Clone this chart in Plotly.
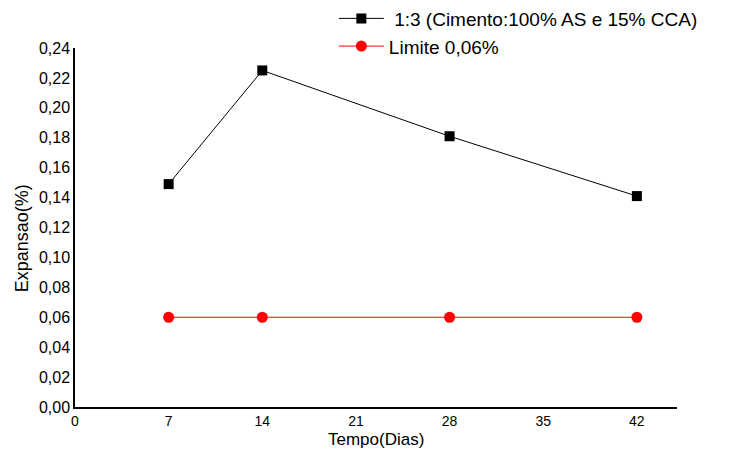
import plotly.graph_objects as go

dias = [7, 14, 28, 42]
expansao = [0.149, 0.225, 0.181, 0.141]
limite = [0.06, 0.06, 0.06, 0.06]
x_ticks = [0, 7, 14, 21, 28, 35, 42]
y_ticks = [0.00, 0.02, 0.04, 0.06, 0.08, 0.10, 0.12, 0.14, 0.16, 0.18, 0.20, 0.22, 0.24]

fig = go.Figure()
fig.add_trace(go.Scatter(
    x=dias, y=expansao, mode="lines+markers",
    name="\u00a01:3 (Cimento:100% AS e 15% CCA)",
    line=dict(color="black", width=1),
    marker=dict(symbol="square", size=10, color="black"),
))
fig.add_trace(go.Scatter(
    x=dias, y=limite, mode="lines+markers",
    name="Limite 0,06%",
    line=dict(color="red", width=1),
    marker=dict(symbol="circle", size=11, color="red"),
))

fig.update_layout(
    width=747, height=450,
    margin=dict(l=75, r=70, t=48, b=43, autoexpand=False),
    plot_bgcolor="white", paper_bgcolor="white",
    separators=",.",
    font=dict(family="Liberation Sans, Arial", size=16, color="black"),
    showlegend=True,
    legend=dict(
        x=0.43, y=1.135, xanchor="left", yanchor="top",
        bgcolor="rgba(0,0,0,0)", font=dict(size=19),
        tracegroupgap=0, itemwidth=45,
    ),
    xaxis=dict(
        range=[0, 45], tickmode="array", tickvals=x_ticks,
        showline=True, linecolor="black", linewidth=1.5,
        showgrid=False, zeroline=False, ticks="", ticklen=0,
        automargin=False,
        tickfont=dict(size=14),
    ),
    yaxis=dict(
        range=[0, 0.24], tickmode="array", tickvals=y_ticks,
        tickformat=".2f",
        showline=True, linecolor="black", linewidth=1.5,
        showgrid=False, zeroline=False, ticks="", ticklen=0,
        automargin=False,
        tickfont=dict(size=16),
    ),
    annotations=[
        dict(text="Tempo(Dias)", xref="paper", yref="paper", x=0.5, y=-0.09,
             xanchor="center", yanchor="middle", showarrow=False,
             font=dict(size=17)),
        dict(text="Expansao(%)", xref="paper", yref="paper", x=-0.088, y=0.47,
             xanchor="center", yanchor="middle", showarrow=False, textangle=-90,
             font=dict(size=18)),
    ],
)

fig.write_html("out.html")
